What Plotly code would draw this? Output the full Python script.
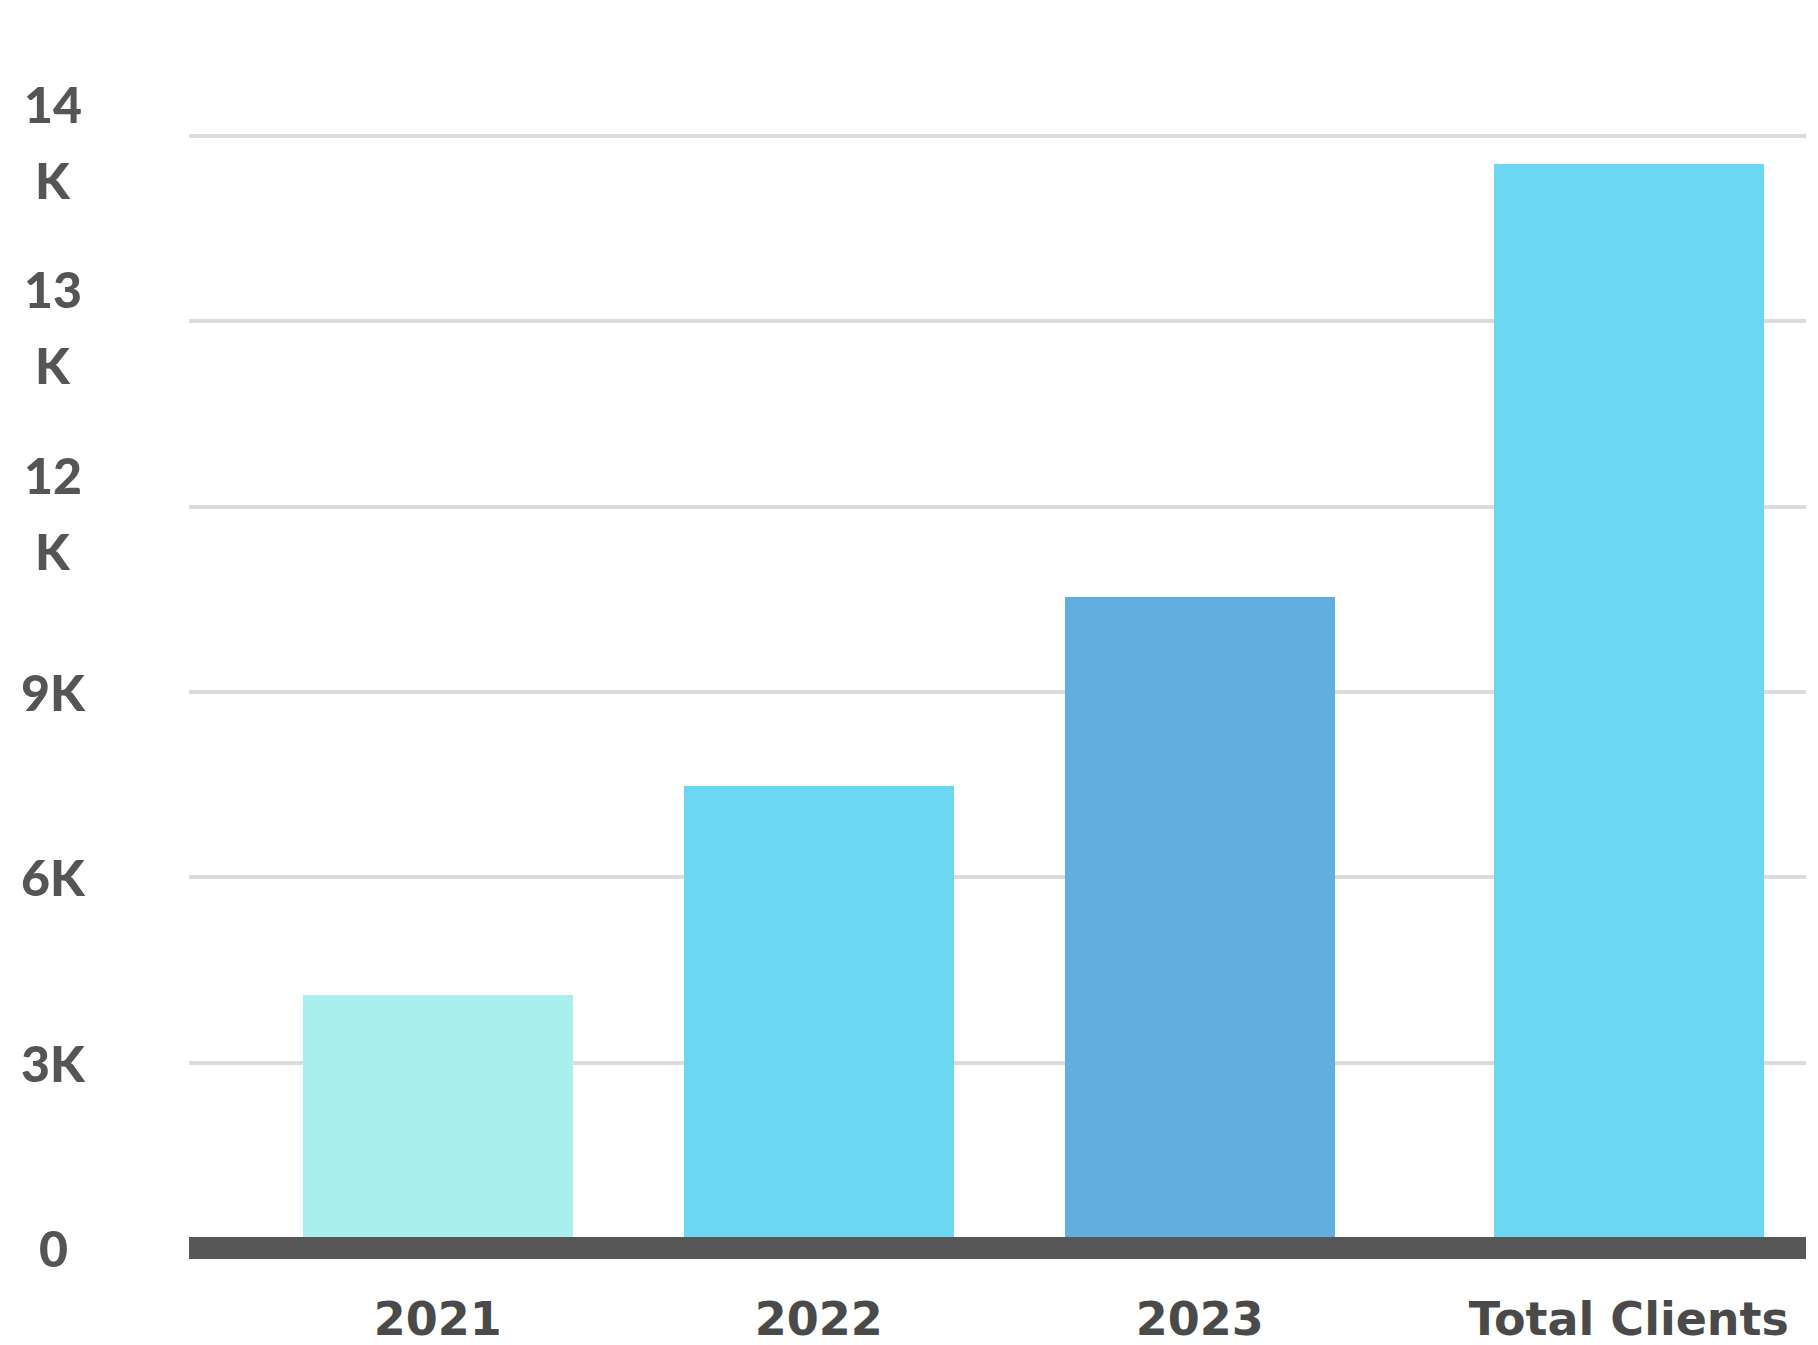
import plotly.graph_objects as go

# ---- data ----
categories = ["2021", "2022", "2023", "Total Clients"]
clients = [4100, 7480, 10530, 17550]
bar_colors = ["#a9efed", "#6cd7f2", "#62aedf", "#6cd7f2"]
tick_values = [0, 3000, 6000, 9000, 12000, 15000, 18000]
tick_labels = ["0", "3K", "6K", "9K", "12<br>K", "13<br>K", "14<br>K"]

# ---- layout constants ----
BAR_W = 0.709
SHIFTS = [0, 0, 0, 0.126]   # visual offset of the last column
idx = list(range(len(categories)))
x_centers = [i + s for i, s in zip(idx, SHIFTS)]
LABEL_X = -0.0841
YFONT = dict(family="Lato", size=50, color="#555555", weight=900)

fig = go.Figure()
fig.add_trace(go.Bar(
    x=idx,
    y=clients,
    width=BAR_W,
    offset=[-BAR_W / 2 + s for s in SHIFTS],
    marker=dict(color=bar_colors, line=dict(width=0)),
    hoverinfo="skip",
    showlegend=False,
))

# thick base line (paper-referenced so it is not clipped)
fig.add_shape(type="line", xref="paper", yref="paper", x0=0, x1=1, y0=0, y1=0,
              line=dict(color="#575757", width=22), layer="above")

# y labels (centered; wrapped ones stacked in two lines)
for v, t in zip(tick_values, tick_labels):
    parts = t.split("<br>")
    if len(parts) == 1:
        fig.add_annotation(x=LABEL_X, xref="paper", y=v, yref="y", text=t,
                           showarrow=False, xanchor="center", yanchor="middle",
                           font=YFONT)
    else:
        for p, ys in zip(parts, [32, -44]):
            fig.add_annotation(x=LABEL_X, xref="paper", y=v, yref="y", text=p,
                               showarrow=False, xanchor="center", yanchor="middle",
                               yshift=ys, font=YFONT)

fig.update_layout(
    width=1818, height=1345,
    margin=dict(l=181, r=20, t=66, b=105),
    paper_bgcolor="white", plot_bgcolor="white",
    bargap=0,
    xaxis=dict(
        range=[-0.653, 3.591],
        tickmode="array", tickvals=x_centers, ticktext=categories,
        showgrid=False, zeroline=False, showline=False, ticks="",
        ticklabelstandoff=40, automargin=False,
        tickfont=dict(family="DejaVu Sans", size=46, color="#4a4a4a", weight="bold"),
    ),
    yaxis=dict(
        range=[0, 19000],
        tickmode="array", tickvals=tick_values, showticklabels=False,
        showgrid=True, gridcolor="#dcdcdc", gridwidth=4,
        zeroline=False, showline=False, ticks="", automargin=False,
    ),
)

fig.write_html("out.html")
